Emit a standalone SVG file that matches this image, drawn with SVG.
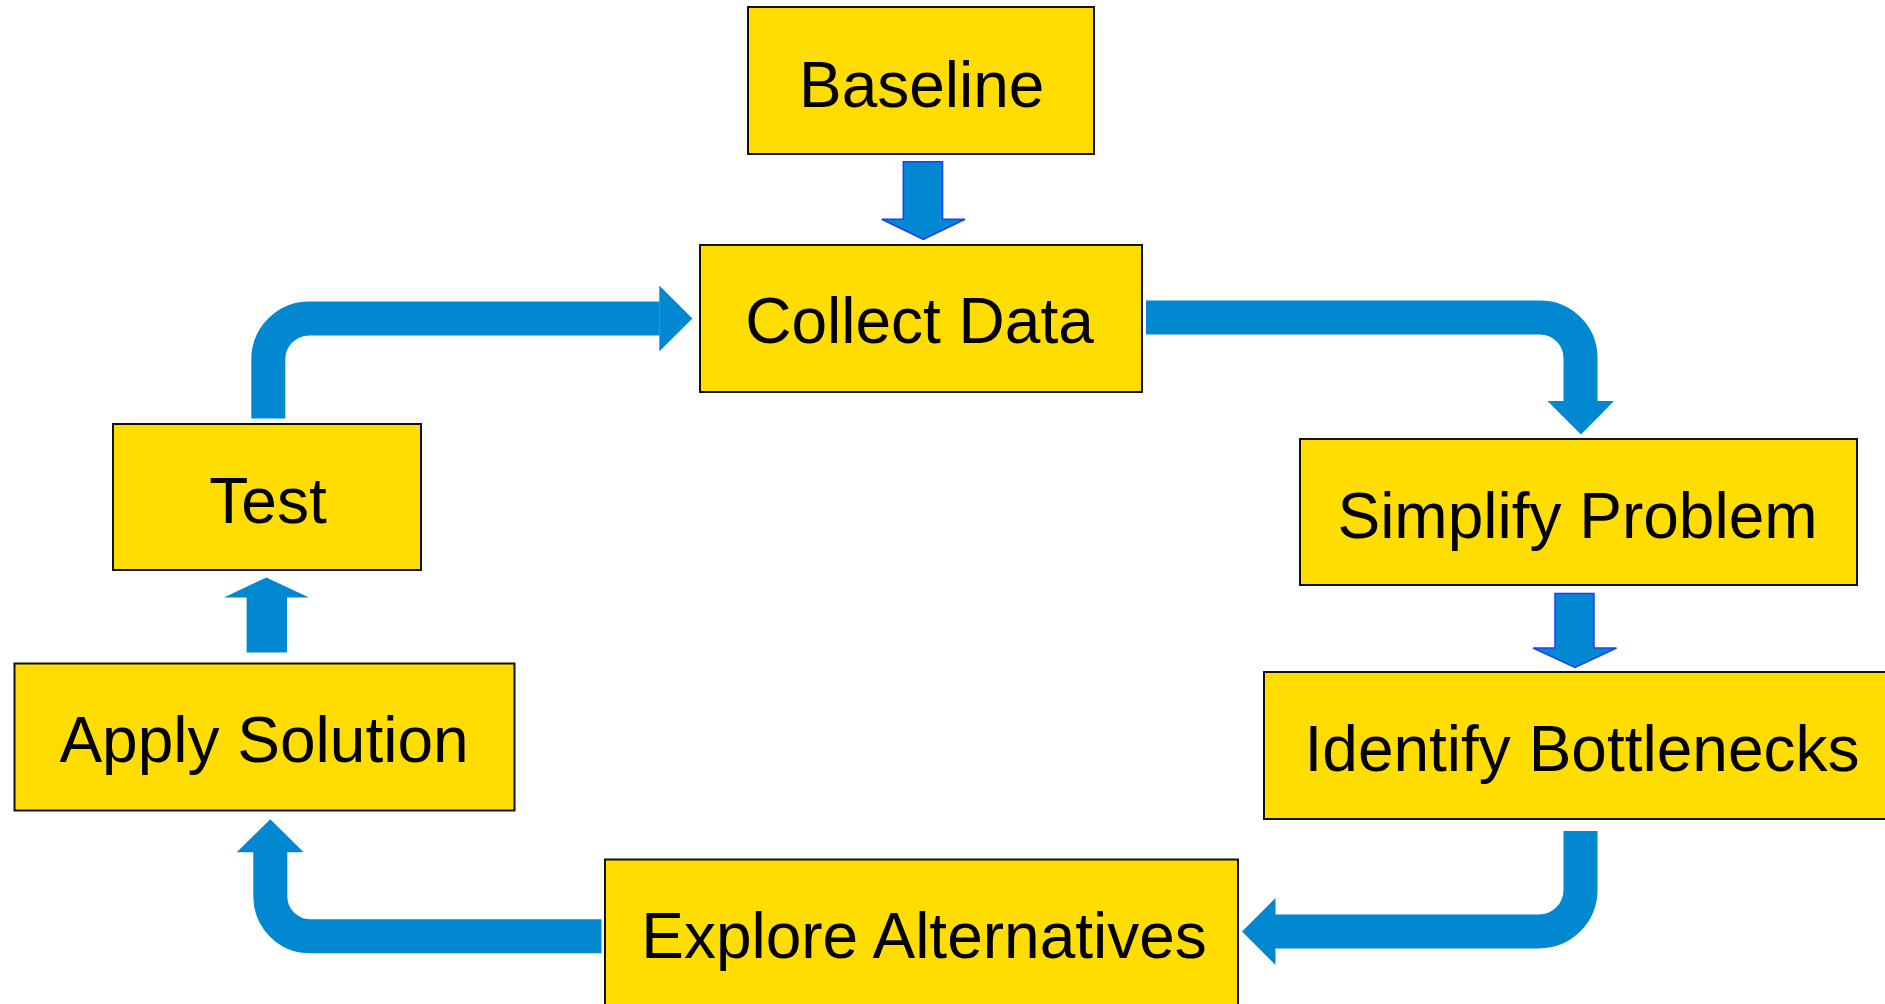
<svg xmlns="http://www.w3.org/2000/svg" width="1885" height="1004" viewBox="0 0 1885 1004">
  <style>
    .box { fill: #FFDD00; stroke: #111111; stroke-width: 2; }
    .label { font-family: "Liberation Sans", Arial, sans-serif; font-size: 64px; fill: #000000; text-anchor: middle; }
    .band { fill: none; stroke: #0288D1; stroke-width: 34; stroke-linecap: butt; stroke-linejoin: miter; }
    .head { fill: #0288D1; }
    .block { fill: #0288D1; stroke: #1f3dff; stroke-width: 1.5; stroke-linejoin: miter; }
    .plain { fill: #0288D1; }
  </style>
  <rect width="1885" height="1004" fill="#ffffff"/>

  <!-- connectors -->
  <g id="connectors">
    <!-- Baseline to Collect Data -->
    <polygon class="block" points="903.3,161.7 942.5,161.7 942.5,219.3 965,219.3 923.3,239.3 881.7,219.3 903.3,219.3"/>
    <!-- Collect Data to Simplify Problem -->
    <path class="band" d="M1146,317.5 H1540 A40.5,40.5 0 0 1 1580.5,358 V401.5"/>
    <polygon class="head" points="1547.5,401 1614,401 1581,434.6"/>
    <!-- Simplify Problem to Identify Bottlenecks -->
    <polygon class="block" points="1555,593.6 1594,593.6 1594,648 1616.5,648 1575,667.5 1533,648 1555,648"/>
    <!-- Identify Bottlenecks to Explore Alternatives -->
    <path class="band" d="M1580.5,831 V890 A41.5,41.5 0 0 1 1539,931.5 H1275"/>
    <polygon class="head" points="1275.5,898 1275.5,965 1242,931.5"/>
    <!-- Explore Alternatives to Apply Solution -->
    <path class="band" d="M601.5,936.3 H310 A40,40 0 0 1 270.3,896.7 V852"/>
    <polygon class="head" points="236.7,852.3 303.7,852.3 270.3,819.3"/>
    <!-- Apply Solution to Test -->
    <polygon class="plain" points="246.6,652.5 287,652.5 287,597.5 309,597.5 266.3,577.5 224,597.5 246.6,597.5"/>
    <!-- Test to Collect Data -->
    <path class="band" d="M268.3,418.6 V359 A41,41 0 0 1 309.3,318.4 H659.5"/>
    <polygon class="head" points="659.3,285.4 659.3,351.4 692.4,318.4"/>
  </g>

  <g id="node-baseline">
    <rect class="box" x="748" y="7" width="346" height="147"/>
    <text class="label" x="921.7" y="106.7">Baseline</text>
  </g>
  <g id="node-collect-data">
    <rect class="box" x="700" y="245" width="442" height="147"/>
    <text class="label" x="919.5" y="343.3">Collect Data</text>
  </g>
  <g id="node-simplify-problem">
    <rect class="box" x="1300" y="439" width="557" height="146"/>
    <text class="label" x="1577.5" y="538">Simplify Problem</text>
  </g>
  <g id="node-identify-bottlenecks">
    <rect class="box" x="1264" y="672" width="640" height="147"/>
    <text class="label" x="1582" y="771">Identify Bottlenecks</text>
  </g>
  <g id="node-explore-alternatives">
    <rect class="box" x="605" y="859.5" width="633" height="160"/>
    <text class="label" x="924" y="957.7">Explore Alternatives</text>
  </g>
  <g id="node-apply-solution">
    <rect class="box" x="14.5" y="663.5" width="500" height="147"/>
    <text class="label" x="264" y="762">Apply Solution</text>
  </g>
  <g id="node-test">
    <rect class="box" x="113" y="424" width="308" height="146"/>
    <text class="label" x="268" y="523">Test</text>
  </g>
</svg>
